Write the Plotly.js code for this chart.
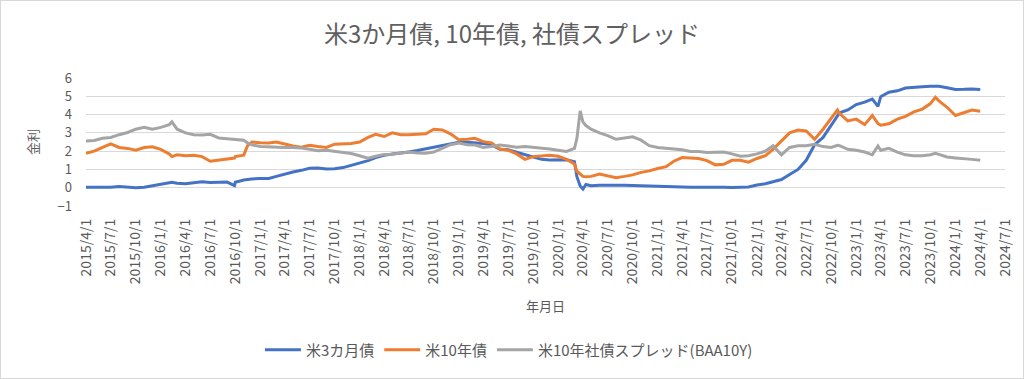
<!DOCTYPE html>
<html>
<head>
<meta charset="utf-8">
<script src="https://cdn.plot.ly/plotly-3.0.1.min.js"></script>
<style>
html,body{margin:0;padding:0;background:#fff;}
#wrap{position:relative;width:1024px;height:379px;}
#chart{width:1024px;height:379px;}
#frame{position:absolute;left:0;top:0;width:1024px;height:379px;box-sizing:border-box;border:1px solid #d9d9d9;pointer-events:none;}
</style>
</head>
<body>
<div id="wrap"><div id="chart"></div><div id="frame"></div></div>
<script>
// ---- data ----
const dates = [
 '2015-04-01','2015-05-01','2015-06-01','2015-07-01','2015-08-01','2015-09-01','2015-10-01','2015-11-01','2015-12-01',
 '2016-01-01','2016-02-01','2016-02-11','2016-03-01','2016-04-01','2016-05-01','2016-06-01','2016-07-01','2016-08-01','2016-09-01','2016-09-28','2016-10-01','2016-11-01','2016-11-15','2016-12-01',
 '2017-01-01','2017-02-01','2017-03-01','2017-04-01','2017-05-01','2017-06-01','2017-07-01','2017-08-01','2017-09-01','2017-10-01','2017-11-01','2017-12-01',
 '2018-01-01','2018-02-01','2018-03-01','2018-04-01','2018-05-01','2018-06-01','2018-07-01','2018-08-01','2018-09-01','2018-10-01','2018-11-01','2018-12-01',
 '2019-01-01','2019-02-01','2019-03-01','2019-04-01','2019-05-01','2019-06-01','2019-07-01','2019-08-01','2019-09-01','2019-10-01','2019-11-01','2019-12-01',
 '2020-01-01','2020-02-01','2020-03-01','2020-03-10','2020-03-22','2020-04-01','2020-04-12','2020-05-01','2020-06-01','2020-07-01','2020-08-01','2020-09-01','2020-10-01','2020-11-01','2020-12-01',
 '2021-01-01','2021-02-01','2021-03-01','2021-04-01','2021-05-01','2021-06-01','2021-07-01','2021-08-01','2021-09-01','2021-10-01','2021-11-01','2021-12-01',
 '2022-01-01','2022-02-01','2022-03-01','2022-04-01','2022-05-01','2022-06-01','2022-07-01','2022-08-01','2022-09-01','2022-10-01','2022-10-24','2022-11-01','2022-12-01',
 '2023-01-01','2023-02-01','2023-03-01','2023-03-22','2023-04-01','2023-05-01','2023-06-01','2023-07-01','2023-08-01','2023-09-01','2023-10-01','2023-10-19','2023-11-01','2023-12-01',
 '2024-01-01','2024-02-01','2024-03-01','2024-04-01'
];

const bill3m = [
 0.02,0.01,0.01,0.02,0.06,0.03,0.00,0.03,0.12,
 0.20,0.28,0.30,0.25,0.22,0.27,0.32,0.29,0.28,0.31,0.12,0.30,0.42,0.45,0.48,
 0.50,0.51,0.62,0.76,0.86,0.95,1.06,1.08,1.02,1.04,1.10,1.22,
 1.35,1.48,1.65,1.77,1.84,1.88,1.95,2.03,2.12,2.20,2.30,2.40,
 2.48,2.49,2.46,2.42,2.35,2.10,2.07,1.93,1.82,1.65,1.55,1.52,
 1.54,1.53,1.42,0.60,0.10,-0.07,0.18,0.11,0.13,0.14,0.14,0.13,0.12,0.10,0.08,
 0.06,0.04,0.03,0.02,0.02,0.03,0.04,0.04,0.03,0.01,0.02,0.04,
 0.15,0.22,0.33,0.45,0.72,1.00,1.50,2.35,2.75,3.45,3.95,4.10,4.25,
 4.55,4.68,4.85,4.45,4.98,5.22,5.30,5.45,5.50,5.52,5.55,5.56,5.55,5.47,
 5.37,5.38,5.40,5.37
];

const note10y = [
 1.88,2.00,2.20,2.40,2.20,2.15,2.05,2.20,2.24,
 2.10,1.85,1.70,1.80,1.75,1.78,1.70,1.45,1.52,1.60,1.62,1.70,1.78,2.30,2.50,
 2.46,2.45,2.50,2.38,2.28,2.22,2.32,2.25,2.20,2.38,2.40,2.42,
 2.50,2.75,2.92,2.80,3.00,2.90,2.90,2.92,2.95,3.20,3.16,2.95,
 2.62,2.65,2.70,2.52,2.45,2.12,2.05,1.85,1.55,1.70,1.72,1.78,
 1.72,1.55,1.30,0.90,0.75,0.62,0.60,0.62,0.75,0.65,0.55,0.62,0.70,0.84,0.92,
 1.05,1.15,1.45,1.65,1.63,1.60,1.48,1.25,1.28,1.50,1.50,1.40,
 1.60,1.75,2.10,2.55,3.00,3.15,3.10,2.65,3.20,3.80,4.25,4.05,3.65,
 3.75,3.45,3.95,3.50,3.42,3.50,3.75,3.90,4.15,4.30,4.60,4.95,4.75,4.40,
 3.95,4.10,4.25,4.18
];

const spreadBaa = [
 2.55,2.58,2.70,2.75,2.90,3.02,3.20,3.30,3.20,
 3.30,3.45,3.60,3.20,3.00,2.90,2.88,2.92,2.72,2.68,2.65,2.64,2.60,2.45,2.35,
 2.25,2.22,2.20,2.20,2.20,2.17,2.10,2.02,2.05,2.00,1.92,1.87,
 1.75,1.62,1.72,1.82,1.83,1.90,1.95,1.90,1.88,1.95,2.15,2.35,
 2.45,2.35,2.33,2.20,2.25,2.33,2.28,2.22,2.26,2.22,2.20,2.12,
 2.05,1.98,2.15,2.70,4.20,3.60,3.40,3.20,3.00,2.85,2.65,2.70,2.78,2.60,2.30,
 2.20,2.15,2.12,2.08,1.98,1.98,1.92,1.93,1.95,1.85,1.72,1.75,
 1.85,2.00,2.30,1.80,2.20,2.30,2.30,2.38,2.25,2.20,2.32,2.30,2.10,
 2.05,1.95,1.80,2.28,2.05,2.15,1.95,1.80,1.75,1.75,1.80,1.88,1.82,1.68,
 1.63,1.60,1.55,1.50
];

const seriesNames = ['米3カ月債', '米10年債', '米10年社債スプレッド(BAA10Y)'];
const seriesColors = ['#4472C4', '#ED7D31', '#A5A5A5'];

const tickDates = [
 '2015-04-01','2015-07-01','2015-10-01','2016-01-01','2016-04-01','2016-07-01','2016-10-01',
 '2017-01-01','2017-04-01','2017-07-01','2017-10-01','2018-01-01','2018-04-01','2018-07-01','2018-10-01',
 '2019-01-01','2019-04-01','2019-07-01','2019-10-01','2020-01-01','2020-04-01','2020-07-01','2020-10-01',
 '2021-01-01','2021-04-01','2021-07-01','2021-10-01','2022-01-01','2022-04-01','2022-07-01','2022-10-01',
 '2023-01-01','2023-04-01','2023-07-01','2023-10-01','2024-01-01','2024-04-01','2024-07-01'
];
const tickLabels = tickDates.map(d => { const p = d.split('-'); return p[0] + '/' + (+p[1]) + '/' + (+p[2]); });

const chartTitle = '米3か月債, 10年債, 社債スプレッド';
const xTitle = '年月日';
const yTitle = '金利';

// ---- chart ----
const FONT = '"Noto Sans CJK JP", "Noto Sans", sans-serif';
const GREY = '#595959';
const GRID = '#d9d9d9';

const values = [bill3m, note10y, spreadBaa];
const traces = values.map((v, i) => ({
  type: 'scatter', mode: 'lines', x: dates, y: v, name: seriesNames[i],
  line: {color: seriesColors[i], width: 3}, hoverinfo: 'skip'
}));

const layout = {
  width: 1024, height: 379,
  paper_bgcolor: '#ffffff', plot_bgcolor: '#ffffff',
  margin: {l: 86, r: 19, t: 78, b: 173},
  font: {family: FONT, color: GREY, size: 12},
  title: {text: chartTitle, font: {family: FONT, size: 24, color: '#606060'},
          x: 0.5, xref: 'container', xanchor: 'center', y: 1 - 35/379, yref: 'container', yanchor: 'middle'},
  showlegend: true,
  legend: {orientation: 'h', xref: 'container', yref: 'container', x: 0.497, xanchor: 'center',
           y: 1 - 350/379, yanchor: 'middle', font: {family: FONT, size: 15, color: GREY},
           traceorder: 'normal', itemwidth: 36},
  xaxis: {
    type: 'date', range: [tickDates[0], tickDates[tickDates.length - 1]],
    tickmode: 'array', tickvals: tickDates, ticktext: tickLabels, tickangle: -90,
    tickfont: {family: FONT, size: 14, color: GREY}, ticks: '', ticklabelstandoff: 9,
    showgrid: false, zeroline: false, showline: false,
    title: {text: xTitle, font: {family: FONT, size: 13, color: GREY}, standoff: 18}
  },
  xaxis2: {
    type: 'date', overlaying: 'x', anchor: 'free', position: 1/7, side: 'bottom',
    range: [tickDates[0], tickDates[tickDates.length - 1]],
    tickmode: 'array', tickvals: tickDates, ticks: 'outside', ticklen: 5, tickcolor: GRID, tickwidth: 1,
    showticklabels: false, showgrid: false, zeroline: false, showline: true, linecolor: GRID, linewidth: 1
  },
  yaxis: {
    range: [-1, 6], dtick: 1, tick0: 0, showgrid: true, gridcolor: GRID, gridwidth: 1,
    zeroline: false, showline: false, ticks: '', ticklabelstandoff: 13,
    tickfont: {family: FONT, size: 13, color: GREY},
    title: {text: yTitle, font: {family: FONT, size: 13, color: GREY}, standoff: 16}
  }
};

Plotly.newPlot('chart', traces, layout, {displayModeBar: false, staticPlot: true});
</script>
</body>
</html>
